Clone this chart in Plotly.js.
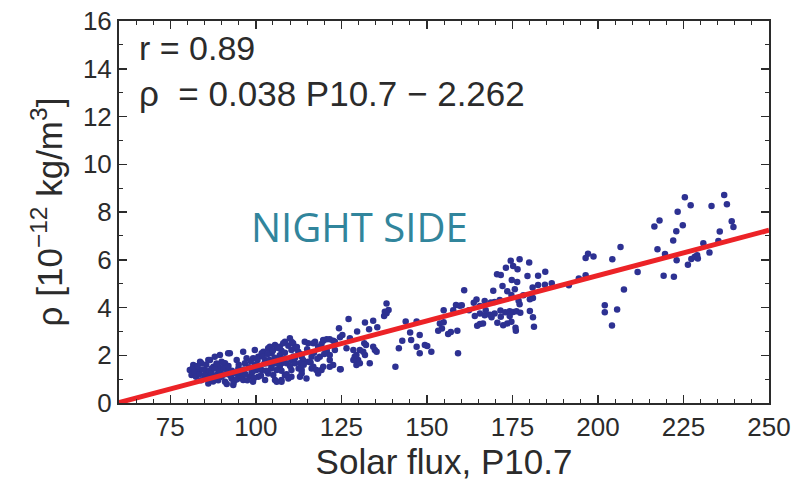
<!DOCTYPE html>
<html>
<head>
<meta charset="utf-8">
<script src="https://cdn.plot.ly/plotly-3.0.1.min.js"></script>
<style>
  html, body { margin: 0; padding: 0; background: #ffffff; }
  #chart { width: 801px; height: 486px; }
</style>
</head>
<body>
<div id="chart"></div>
<script>
// Night-side thermospheric density vs. solar flux index P10.7
const solarFlux = [
  // high-flux group
  225.4,227.1,236.9,237.7,233.2,223.3,218.0,216.5,224.8,222.9,
  239.1,239.6,235.6,222.0,217.4,219.6,223.0,226.3,227.3,228.3,
  229.0,229.2,230.8,232.6,235.2,219.2,222.2,211.6,206.6,204.2,
  197.1,196.4,198.7,196.4,194.4,191.5,207.6,202.0,202.0,205.6,
  204.1,186.5,
  // 150-185 group
  174.5,177.1,179.9,175.2,176.5,173.1,170.5,171.6,179.4,182.5,
  184.6,174.8,176.4,180.9,182.5,184.5,172.1,169.4,160.9,173.5,
  175.7,178.2,181.0,180.1,177.1,166.9,164.5,163.7,165.5,168.7,
  158.5,159.6,160.2,157.7,154.9,153.8,154.9,156.2,157.0,158.9,
  159.1,151.3,164.0,165.5,166.9,168.4,169.8,171.5,172.9,174.2,
  175.2,176.2,177.3,174.2,171.6,170.6,172.3,173.5,174.7,175.9,
  176.0,180.1,181.0,181.3,164.7,165.5,166.4,168.9,167.2,169.8,
  171.3,174.7,176.8,162.3,154.4,153.3,
  // 120-150 group
  138.2,138.8,138.2,137.5,127.1,124.3,131.9,134.3,135.5,133.1,
  129.6,125.3,124.6,120.7,119.7,122.6,127.5,131.7,132.2,134.3,
  134.8,128.5,130.4,123.1,120.7,121.6,128.9,129.9,131.9,133.3,
  129.4,121.6,124.8,119.2,140.8,141.8,142.8,143.8,145.1,147.0,
  147.9,145.4,147.0,149.4,150.1,147.9,
  // 80-120 group
  109.95,108.5,110.9,105.6,107.0,103.6,102.2,99.7,96.3,92.4,
  88.0,86.1,83.7,81.7,80.7,82.2,85.1,89.0,91.0,94.4,
  97.3,100.7,104.6,107.5,111.4,115.3,117.3,119.2,116.3,113.4,
  110.4,107.5,104.6,101.7,98.8,95.8,92.9,93.4,91.0,88.0,
  86.1,89.0,87.1,83.2,100.7,103.6,105.6,108.5,110.4,113.4,
  116.3,118.2,119.7,115.3,109.5,96.8,99.7,102.7,94.9,91.9,
  90.0,99.2,96.3,107.5,102.7,
  81.2,82.7,84.1,85.6,86.6,87.6,88.5,90.5,89.5,91.9,
  93.9,94.9,98.3,99.2,100.2,101.7,103.1,104.1,105.1,106.1,
  107.0,108.0,110.4,111.4,113.4,113.8,
  114.3,116.8,118.2,119.7,121.6,123.1,137.7,118.7,121.6,124.6,
  122.6,116.8,114.8,112.9,117.7,128.5,130.4,129.4,131.4,135.3,
  120.7,126.5,109.0,110.4,107.5,111.4,112.4,112.9,106.1,
  81.5,82.0,82.5,83.0,83.5,84.0,84.5,85.0,85.5,86.0,
  86.5,87.0,87.5,88.0,88.5,89.0,89.5,90.0,90.5,91.0,
  91.5,92.0,92.5,93.0,93.5,94.0,94.5,95.0,95.5,96.0,
  96.5,97.0,97.5,98.0,98.5,99.0,99.5,100.0,100.5,101.0,
  101.5,102.0,102.5,103.0,103.5,104.0,104.5,105.0,105.5,106.0,
  106.5,107.0,107.5,108.0,108.5,109.0,109.5,110.0,110.5,111.0,
  112.0,112.5,113.0,114.0,115.0,116.0,117.0,118.0,119.0,120.0
];

const density = [
  8.62,8.28,8.71,8.32,8.25,8.01,7.64,7.39,7.44,7.19,
  7.61,7.37,7.18,6.81,6.44,6.24,5.98,5.79,6.03,6.13,
  6.19,6.05,6.69,6.30,6.79,5.33,5.29,5.49,6.53,6.02,
  6.25,6.07,6.14,5.35,5.21,4.93,4.75,4.09,3.80,3.92,
  3.25,5.02,
  5.96,6.02,5.88,5.74,5.60,5.67,5.39,5.36,5.32,5.33,
  5.50,5.15,5.07,4.84,4.94,4.95,4.90,4.70,4.72,4.68,
  4.76,4.51,4.40,4.35,4.14,4.27,4.34,4.20,4.06,4.21,
  4.10,4.07,4.09,3.89,3.89,3.33,3.38,2.89,2.97,3.03,
  2.08,2.15,3.64,3.75,3.68,3.70,3.75,3.87,3.80,3.84,
  3.81,3.84,3.78,3.64,3.61,3.36,3.26,3.33,3.40,3.15,
  3.03,3.85,3.59,3.19,3.24,3.31,3.33,3.59,3.89,4.23,
  4.31,4.52,4.28,3.89,3.12,3.03,
  4.17,3.90,3.76,3.64,3.52,3.13,3.37,3.45,3.17,3.09,
  2.99,2.85,2.75,2.67,2.61,2.61,2.71,2.50,2.43,2.36,
  2.22,2.22,2.22,2.22,2.15,2.01,1.94,1.80,2.01,1.66,
  1.59,1.52,1.41,1.38,1.52,2.29,2.61,3.41,2.95,3.41,
  2.85,2.64,2.36,2.43,2.39,2.08,
  2.71,2.57,2.50,2.43,2.36,2.29,2.15,2.22,2.15,2.08,
  1.94,1.80,1.73,1.59,1.38,1.24,1.38,1.52,1.66,1.80,
  1.87,1.94,2.08,2.19,2.29,2.50,2.57,2.47,1.94,1.94,
  1.80,1.66,1.52,1.38,1.31,1.17,1.03,0.75,0.89,1.03,
  0.82,1.24,1.45,1.38,1.10,1.24,0.96,1.17,1.38,1.38,
  1.45,1.24,1.52,1.73,1.03,1.66,1.59,1.80,1.45,1.38,
  1.73,0.89,0.96,0.89,0.96,
  1.17,1.52,1.66,1.24,1.80,1.52,1.17,1.66,2.01,2.08,
  0.96,1.17,1.10,1.87,1.38,2.08,1.66,2.36,1.17,0.89,
  1.52,2.50,2.22,1.66,1.24,1.80,
  2.57,2.50,2.36,2.64,2.67,2.57,3.82,1.94,1.80,1.41,
  1.59,1.52,1.03,1.10,1.38,1.80,1.66,2.01,2.15,2.15,
  2.22,2.29,1.66,1.10,0.96,1.87,2.15,1.66,1.38,
  1.45,1.30,1.10,1.55,1.20,0.95,1.40,1.15,1.60,1.05,
  1.35,1.25,0.90,1.45,1.65,0.95,1.30,1.10,1.45,1.20,
  0.80,1.55,1.15,1.35,0.85,1.25,1.00,1.60,1.30,1.05,
  1.40,1.20,0.95,1.50,1.75,1.30,1.05,1.60,1.80,1.45,
  1.15,1.95,1.65,1.35,2.05,1.80,1.45,2.20,1.90,1.65,
  2.30,2.00,1.35,1.85,2.10,1.20,2.40,1.55,2.55,1.95,
  2.35,1.45,2.05,1.60,2.25,1.70,2.10,1.85,2.30,2.05
];

// Linear fit quoted in the annotation
const fitSlope = 0.038;
const fitIntercept = -2.262;
const fitRange = [60, 250];
const correlation = 0.89;

const xTickVals = [75, 100, 125, 150, 175, 200, 225, 250];
const yTickVals = [0, 2, 4, 6, 8, 10, 12, 14, 16];

const axisColor = '#2b2b2b';
const textFamily = 'Liberation Sans, Arial, sans-serif';
const tickFont = { family: textFamily, size: 26, color: '#2b2b2b' };

const points = {
  x: solarFlux,
  y: density,
  type: 'scatter',
  mode: 'markers',
  marker: { color: '#2d3192', size: 6.5, line: { width: 0 } },
  hoverinfo: 'x+y',
  showlegend: false
};

const fitLine = {
  x: fitRange,
  y: fitRange.map(f => fitSlope * f + fitIntercept),
  type: 'scatter',
  mode: 'lines',
  line: { color: '#ec2327', width: 5 },
  hoverinfo: 'skip',
  showlegend: false
};

const layout = {
  width: 801,
  height: 486,
  margin: { l: 119, r: 32, t: 21, b: 83, pad: 0 },
  paper_bgcolor: '#ffffff',
  plot_bgcolor: '#ffffff',
  xaxis: {
    range: [60, 250],
    tickvals: xTickVals,
    ticks: 'inside',
    ticklen: 8,
    tickwidth: 1.5,
    tickcolor: axisColor,
    minor: { dtick: 5, tick0: 60, ticks: 'inside', ticklen: 4, tickwidth: 1, tickcolor: axisColor, showgrid: false },
    showline: true,
    linecolor: axisColor,
    linewidth: 2,
    mirror: 'ticks',
    showgrid: false,
    zeroline: false,
    tickfont: tickFont,
    title: {
      text: 'Solar flux, P10.7',
      font: { family: textFamily, size: 35, color: '#2b2b2b' },
      standoff: 4
    }
  },
  yaxis: {
    range: [0, 16],
    tickvals: yTickVals,
    ticks: 'inside',
    ticklen: 8,
    tickwidth: 1.5,
    tickcolor: axisColor,
    minor: { dtick: 1, tick0: 0, ticks: 'inside', ticklen: 4, tickwidth: 1, tickcolor: axisColor, showgrid: false },
    showline: true,
    linecolor: axisColor,
    linewidth: 2,
    mirror: 'ticks',
    showgrid: false,
    zeroline: false,
    tickfont: tickFont,
    title: {
      text: 'ρ [10<sup>−12</sup> kg/m<sup>3</sup>]',
      font: { family: textFamily, size: 35, color: '#2b2b2b' },
      standoff: 10
    }
  },
  annotations: [
    {
      xref: 'paper', yref: 'paper', x: 0.027, y: 0.929,
      xanchor: 'left', yanchor: 'middle', showarrow: false,
      text: 'r = ' + correlation.toFixed(2),
      font: { family: textFamily, size: 34, color: '#2b2b2b' }
    },
    {
      xref: 'paper', yref: 'paper', x: 0.027, y: 0.8115,
      xanchor: 'left', yanchor: 'middle', showarrow: false,
      text: 'ρ  = ' + fitSlope.toFixed(3) + ' P10.7 − ' + Math.abs(fitIntercept).toFixed(3),
      font: { family: textFamily, size: 35, color: '#2b2b2b' }
    },
    {
      xref: 'paper', yref: 'paper', x: 0.3695, y: 0.461,
      xanchor: 'center', yanchor: 'middle', showarrow: false,
      text: 'NIGHT SIDE',
      font: { family: 'Open Sans, Noto Sans, sans-serif', size: 40, color: '#31859c' }
    }
  ]
};

Plotly.newPlot('chart', [points, fitLine], layout, { staticPlot: true, displayModeBar: false });
</script>
</body>
</html>
